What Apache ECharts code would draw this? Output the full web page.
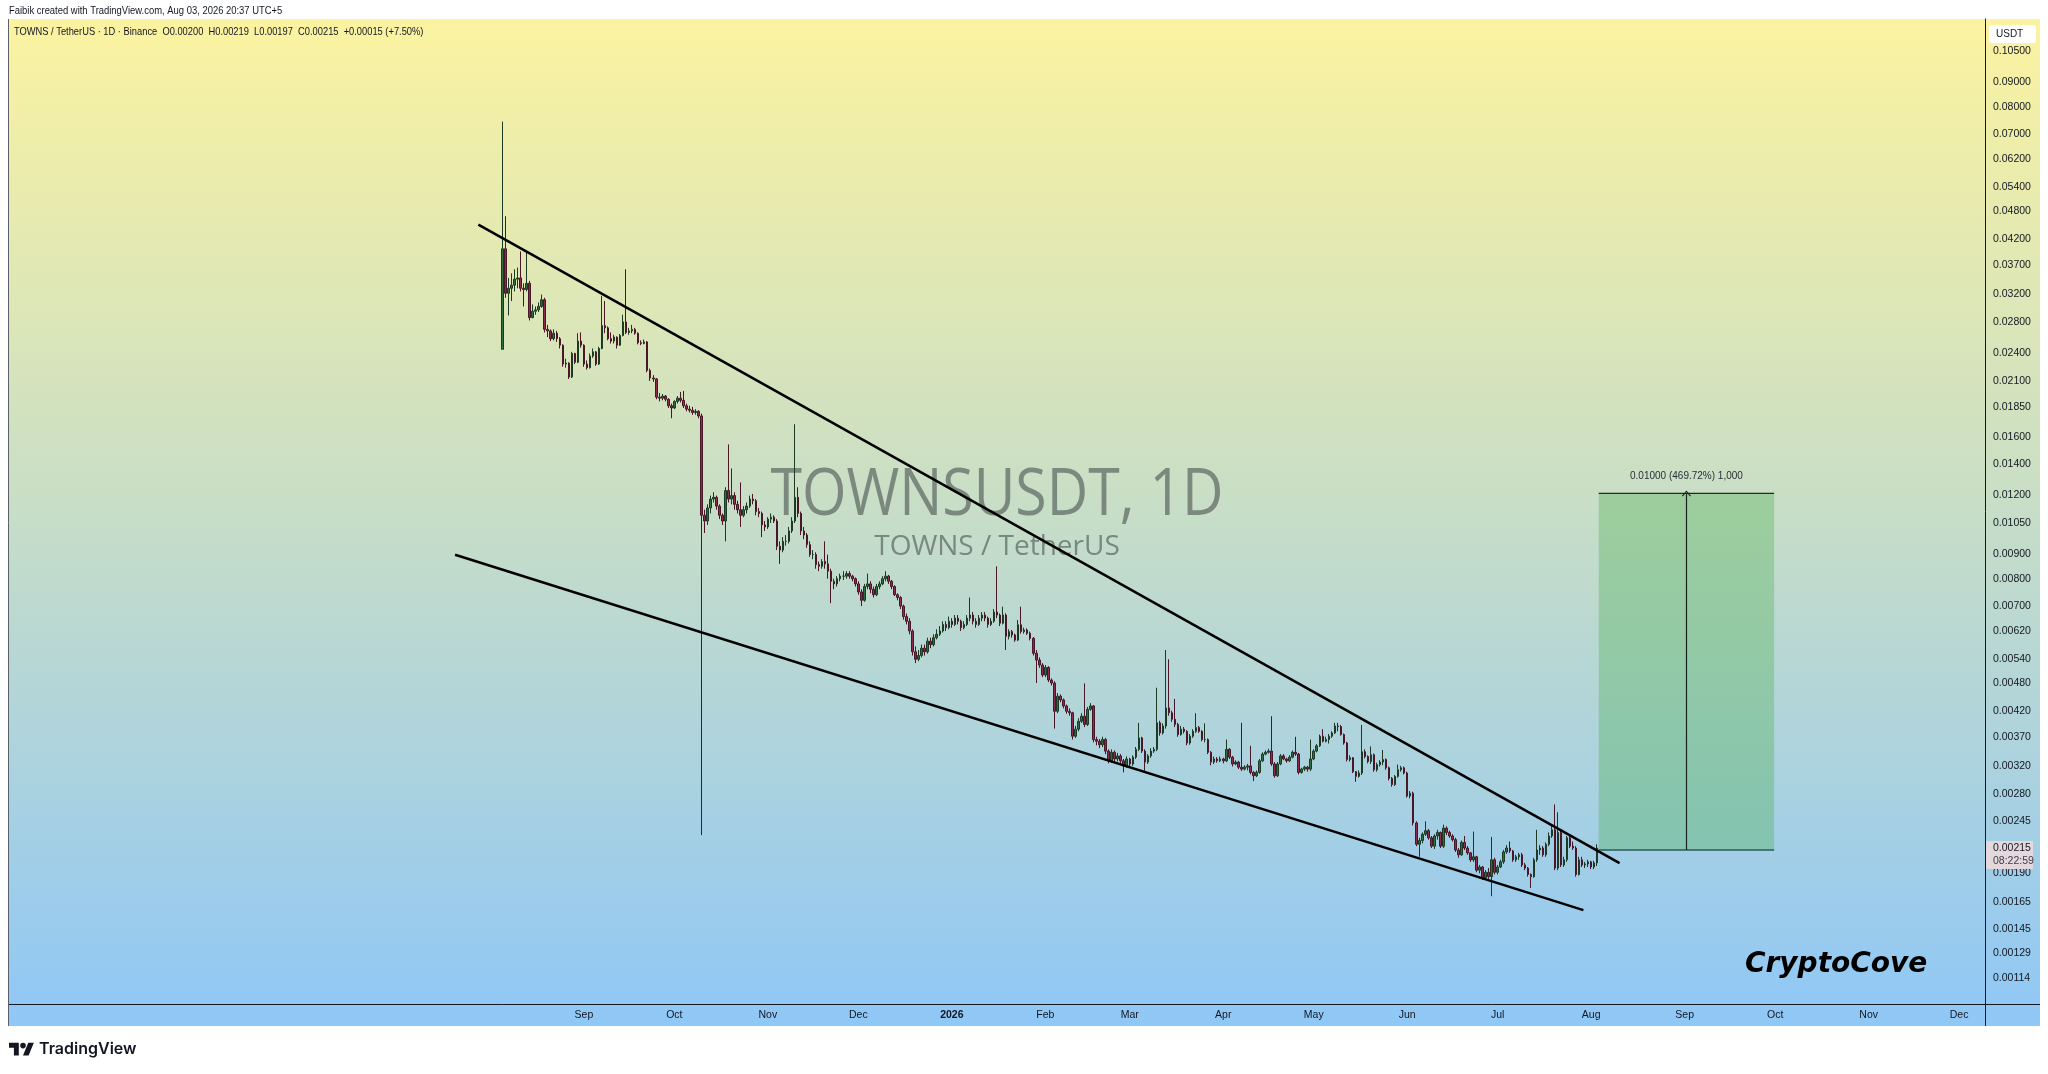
<!DOCTYPE html>
<html>
<head>
<meta charset="utf-8">
<title>TOWNSUSDT, 1D</title>
<script src="https://cdn.jsdelivr.net/npm/echarts@6/dist/echarts.min.js"></script>
<style>
html, body { margin: 0; padding: 0; background: #fff; }
#main { width: 2048px; height: 1074px; }
</style>
</head>
<body>
<div id="main"></div>
<script>
// daily candles from 2025-08-05, prices in 1e-5 USDT (open = previous close)
var firstDay = Date.UTC(2025, 7, 5);
var firstOpen = 2450;
var closes = [
  4000,3220,3300,3350,3450,3470,3300,3280,3380,2860,
  2950,2970,3020,3120,2700,2680,2580,2650,2580,2500,
  2280,2290,2140,2400,2300,2550,2500,2280,2240,2370,
  2420,2280,2460,2750,2720,2580,2550,2600,2500,2620,
  2800,2660,2680,2700,2650,2530,2520,2540,2210,2130,
  2120,1940,1930,1950,1920,1860,1840,1900,1930,1910,
  1860,1830,1820,1800,1810,1770,1090,1060,1130,1180,
  1190,1140,1090,1060,1230,1180,1200,1150,1120,1090,
  1120,1140,1180,1170,1110,1100,1040,1030,1070,1080,
  1060,937,920,960,960,1010,1060,1190,1100,1010,
  990,945,900,900,857,850,870,860,830,790,
  780,800,810,810,820,810,800,780,750,720,
  770,780,760,740,770,780,800,810,790,770,
  740,730,700,665,650,620,560,540,550,570,
  560,590,580,600,610,620,640,630,650,640,
  660,650,630,640,660,670,650,640,660,670,
  660,640,650,680,670,644,670,604,618,608,
  593,639,618,623,613,598,556,538,525,500,
  519,488,481,419,451,443,430,419,416,371,
  384,399,409,393,423,430,365,362,356,365,
  345,329,343,332,337,329,321,332,324,335,
  348,368,345,327,337,345,348,396,377,390,
  426,416,403,393,374,384,380,359,371,380,
  387,380,365,365,343,327,332,329,332,329,
  348,335,324,327,319,316,319,321,311,306,
  311,329,340,343,345,324,306,324,337,332,
  329,335,343,340,311,316,319,316,332,345,
  354,371,362,365,371,377,390,389,374,359,
  331,334,312,305,310,344,336,328,339,315,
  323,327,331,318,302,293,305,315,318,310,
  277,281,243,219,223,230,234,226,217,228,
  232,217,237,232,228,224,213,208,221,215,
  210,203,206,193,196,186,191,187,203,191,
  196,201,211,215,212,203,206,208,198,195,
  189,187,203,213,215,208,219,228,235,195,
  232,198,203,226,217,215,189,203,198,199,
  201,196,200,215
];
var highs = [
  7440,4690,3470,3550,3620,3650,3950,3380,3950,3420,
  3050,3020,3080,3200,3150,2760,2700,2700,2680,2600,
  2510,2340,2300,2420,2410,2650,2660,2510,2320,2400,
  2460,2430,2480,3180,3100,2740,2660,2630,2610,2640,
  2900,3620,2720,2760,2720,2660,2560,2570,2550,2230,
  2160,2130,1980,1970,1960,1930,1880,1910,1950,1990,
  2000,1880,1860,1850,1830,1820,1790,1120,1150,1200,
  1220,1200,1150,1100,1250,1540,1370,1220,1170,1280,
  1140,1160,1200,1210,1180,1130,1110,1060,1080,1100,
  1090,1070,960,980,990,1030,1080,1700,1250,1110,
  1030,1000,960,920,910,870,880,960,900,840,
  800,810,820,830,830,830,815,805,790,760,
  780,820,790,770,780,790,810,830,815,795,
  775,745,735,705,675,660,625,575,565,580,
  580,600,600,610,625,635,650,650,665,660,
  670,670,655,650,670,730,680,660,670,680,
  680,665,660,690,850,675,698,676,625,623,
  612,654,698,630,628,618,602,565,545,530,
  525,522,492,485,458,455,446,433,425,418,
  390,405,415,480,428,436,432,370,366,370,
  368,348,348,346,342,340,332,336,334,338,
  352,396,370,348,340,350,352,470,400,395,
  565,540,420,445,396,390,388,382,375,384,
  415,390,382,395,367,345,336,335,336,334,
  365,350,337,330,329,396,322,324,354,313,
  314,332,343,346,349,409,327,327,340,340,
  334,338,346,370,342,318,321,321,365,348,
  357,374,384,370,375,380,396,396,392,376,
  361,338,335,313,314,392,348,338,353,341,
  326,330,347,333,320,304,307,323,321,320,
  312,284,283,245,226,232,245,236,228,230,
  235,233,241,239,234,230,226,215,223,228,
  217,211,233,207,198,197,193,195,227,205,
  198,203,213,218,222,213,208,210,210,200,
  196,190,205,235,218,217,221,232,241,266,
  256,234,206,228,228,222,217,206,206,201,
  203,202,202,219
];
var lows = [
  2450,3150,2890,3100,3250,3300,3250,3020,3250,2820,
  2850,2900,2940,3000,2660,2600,2550,2560,2540,2460,
  2250,2240,2120,2130,2280,2290,2470,2250,2220,2230,
  2350,2260,2270,2450,2650,2560,2520,2520,2460,2490,
  2610,2640,2630,2650,2630,2510,2500,2510,2190,2100,
  2090,1920,1900,1910,1900,1840,1750,1830,1880,1890,
  1840,1810,1800,1780,1780,1750,229,1000,1040,1100,
  1160,1120,1070,1040,960,1160,1150,1120,1100,1030,
  1080,1100,1130,1150,1090,1080,980,1010,1020,1050,
  1050,920,860,910,940,950,1000,1050,1080,990,
  970,930,890,880,840,830,840,840,800,710,
  760,770,790,795,800,800,790,770,740,700,
  715,760,745,730,735,760,775,790,780,760,
  735,720,690,655,640,610,550,530,535,545,
  550,555,570,575,595,605,615,620,625,630,
  635,640,620,625,635,650,640,630,635,650,
  650,630,635,645,660,635,640,565,595,600,
  588,590,612,612,608,592,550,481,518,495,
  495,483,475,385,415,438,425,414,410,365,
  368,380,396,388,390,420,360,355,350,352,
  340,325,326,328,328,325,311,318,320,321,
  332,345,342,311,324,334,342,345,372,374,
  385,410,398,388,370,372,376,355,356,368,
  377,377,362,360,340,322,324,326,327,325,
  327,332,320,322,316,313,314,314,308,298,
  304,309,327,338,341,321,303,304,322,330,
  326,327,333,337,308,309,313,312,313,330,
  343,352,360,360,358,368,375,380,372,356,
  328,328,310,297,303,307,333,325,324,312,
  312,320,322,315,299,290,291,303,312,308,
  275,274,240,217,206,220,228,224,215,214,
  224,215,215,229,226,222,211,205,207,213,
  208,201,201,191,190,184,185,185,170,189,
  189,195,199,209,210,201,201,203,196,193,
  187,177,186,201,208,206,206,217,226,193,
  193,196,196,201,215,213,187,188,196,195,
  196,194,194,197
];

var priceTicks = [0.105, 0.09, 0.08, 0.07, 0.062, 0.054, 0.048, 0.042, 0.037, 0.032,
  0.028, 0.024, 0.021, 0.0185, 0.016, 0.014, 0.012, 0.0105, 0.009, 0.008, 0.007,
  0.0062, 0.0054, 0.0048, 0.0042, 0.0037, 0.0032, 0.0028, 0.00245, 0.0019,
  0.00165, 0.00145, 0.00129, 0.00114];
var monthTicks = ['2025-09-01','2025-10-01','2025-11-01','2025-12-01','2026-01-01',
  '2026-02-01','2026-03-01','2026-04-01','2026-05-01','2026-06-01','2026-07-01',
  '2026-08-01','2026-09-01','2026-10-01','2026-11-01','2026-12-01'];
var monthLabels = ['Sep','Oct','Nov','Dec','2026','Feb','Mar','Apr','May','Jun','Jul',
  'Aug','Sep','Oct','Nov','Dec'];

// drawings: falling wedge lines and the long position box
var upperLine = [[Date.UTC(2025, 6, 28), 0.04502], [Date.UTC(2026, 7, 10, 10), 0.001997]];
var lowerLine = [[Date.UTC(2025, 6, 20, 7), 0.00899], [Date.UTC(2026, 6, 29, 10), 0.001588]];
var posStart = Date.UTC(2026, 7, 3, 12);
var posEnd = Date.UTC(2026, 8, 30, 16);
var posEntry = 0.002129;
var posTarget = 0.012129;
var posLabel = '0.01000 (469.72%) 1,000';

var DAY = 86400000;
var UNIT = 1e-5;
var lg = Math.log10;
var SANS = "'Liberation Sans', Arial, sans-serif";
var INK = '#131722';

var candles = [];
var prevClose = firstOpen;
for (var i = 0; i < closes.length; i++) {
  candles.push([firstDay + i * DAY, lg(prevClose * UNIT), lg(closes[i] * UNIT),
    lg(lows[i] * UNIT), lg(highs[i] * UNIT)]);
  prevClose = closes[i];
}
var last = closes.length - 1;
var lastO = closes[last - 1] * UNIT, lastC = closes[last] * UNIT;
var lastH = highs[last] * UNIT, lastL = lows[last] * UNIT;
var chg = lastC - lastO;
var legendText = 'TOWNS / TetherUS \u00b7 1D \u00b7 Binance  O' + lastO.toFixed(5) +
  '  H' + lastH.toFixed(5) + '  L' + lastL.toFixed(5) + '  C' + lastC.toFixed(5) +
  '  +' + chg.toFixed(5) + ' (+' + (chg / lastO * 100).toFixed(2) + '%)';

function logLine(pts) {
  return pts.map(function (p) { return [p[0], lg(p[1])]; });
}
var monthValues = monthTicks.map(function (s) { return Date.parse(s); });
var posMid = (posStart + posEnd) / 2;

var chart = echarts.init(document.getElementById('main'));
var option = {
  animation: false,
  backgroundColor: '#ffffff',
  grid: { left: 9, right: 63, top: 19, bottom: 70 },
  xAxis: {
    type: 'value',
    min: Date.UTC(2025, 1, 22, 9),
    max: Date.UTC(2026, 11, 9, 14),
    axisLine: { show: true, onZero: false, lineStyle: { color: INK, width: 1 } },
    axisTick: { show: false },
    splitLine: { show: false },
    axisLabel: {
      customValues: monthValues,
      color: INK,
      fontSize: 10.5,
      fontFamily: SANS,
      margin: 6,
      formatter: function (v) {
        var k = monthValues.indexOf(v);
        var s = k >= 0 ? monthLabels[k] : '';
        return /^\d{4}$/.test(s) ? '{b|' + s + '}' : s;
      },
      rich: { b: { fontWeight: 'bold', fontSize: 10.5, fontFamily: SANS, color: INK } }
    }
  },
  yAxis: {
    type: 'value',
    position: 'right',
    min: -2.998,
    max: -0.911,
    axisLine: { show: true, onZero: false, lineStyle: { color: INK, width: 1 } },
    axisTick: { show: false },
    splitLine: { show: false },
    axisLabel: {
      customValues: priceTicks.map(lg),
      color: INK,
      fontSize: 10.5,
      fontFamily: SANS,
      margin: 8,
      formatter: function (v) { return Math.pow(10, v).toFixed(5); }
    }
  },
  series: [
    {
      type: 'candlestick',
      data: candles,
      barWidth: 2,
      z: 3,
      silent: true,
      itemStyle: {
        color: '#2f6e3c',
        color0: '#8c2b4b',
        borderColor: '#1d3a24',
        borderColor0: '#4a1729',
        borderWidth: 1
      }
    },
    {
      type: 'line', data: logLine(upperLine), showSymbol: false, silent: true, z: 5,
      lineStyle: { color: '#000', width: 2.5 }
    },
    {
      type: 'line', data: logLine(lowerLine), showSymbol: false, silent: true, z: 5,
      lineStyle: { color: '#000', width: 2.5 }
    },
    {
      type: 'line',
      data: [[posStart, lg(posTarget)], [posEnd, lg(posTarget)]],
      showSymbol: false, silent: true, z: 4,
      lineStyle: { color: '#1e2a22', width: 1.2 },
      markArea: {
        silent: true,
        itemStyle: { color: 'rgba(76,175,80,0.35)' },
        label: {
          show: true, position: 'top', distance: 12, color: '#2a2e39',
          fontSize: 10, fontFamily: SANS, formatter: posLabel
        },
        data: [[{ xAxis: posStart, yAxis: lg(posTarget) }, { xAxis: posEnd, yAxis: lg(posEntry) }]]
      },
      markLine: {
        silent: true,
        symbol: ['none', 'path://M0,8L5,0L10,8L9,9L5,2.5L1,9Z'],
        symbolSize: [9, 6],
        label: { show: false },
        lineStyle: { color: '#16231a', width: 1.2, type: 'solid' },
        data: [[{ coord: [posMid, lg(posEntry)] }, { coord: [posMid, lg(posTarget)] }]]
      }
    },
    {
      type: 'line',
      data: [[posStart, lg(posEntry)], [posEnd, lg(posEntry)]],
      showSymbol: false, silent: true, z: 4,
      lineStyle: { color: '#2c5a57', width: 1.5 }
    }
  ]
};
chart.setOption(option);

var py = chart.convertToPixel({ yAxisIndex: 0 }, lg(lastC));
var LOGO = 0.7;
function logoPts(pts) {
  return pts.map(function (p) { return [9 + p[0] * LOGO, 1040 + p[1] * LOGO]; });
}

chart.setOption({
  graphic: [
    {
      type: 'rect', silent: true, z: -10,
      shape: { x: 8, y: 19, width: 2032, height: 1007 },
      style: {
        fill: {
          type: 'linear', x: 0, y: 0, x2: 0, y2: 1,
          colorStops: [
            { offset: 0, color: '#fbf3a0' },
            { offset: 0.5, color: '#c6ddc8' },
            { offset: 1, color: '#8fc7f6' }
          ]
        }
      }
    },
    { type: 'line', silent: true, z: 1, shape: { x1: 8.5, y1: 19, x2: 8.5, y2: 1026 },
      style: { stroke: '#5a5f6a', lineWidth: 1 } },
    { type: 'line', silent: true, z: 1, shape: { x1: 1985.5, y1: 1004, x2: 1985.5, y2: 1026 },
      style: { stroke: INK, lineWidth: 1 } },
    { type: 'line', silent: true, z: 1, shape: { x1: 1985, y1: 1004.5, x2: 2040, y2: 1004.5 },
      style: { stroke: INK, lineWidth: 1 } },
    {
      type: 'text', silent: true, z: 1, x: 997, y: 496, scaleX: 0.88,
      style: { text: 'TOWNSUSDT, 1D', font: "65px 'Open Sans', sans-serif",
        fill: 'rgba(90,100,95,0.7)', align: 'center', verticalAlign: 'middle' }
    },
    {
      type: 'text', silent: true, z: 1, x: 997, y: 547,
      style: { text: 'TOWNS / TetherUS', font: "28px 'Open Sans', sans-serif",
        fill: 'rgba(90,100,95,0.7)', align: 'center', verticalAlign: 'middle' }
    },
    {
      type: 'text', silent: true, z: 1, x: 9, y: 11, scaleX: 0.82,
      style: { text: 'Faibik created with TradingView.com, Aug 03, 2026 20:37 UTC+5',
        font: '11.5px ' + SANS, fill: INK, verticalAlign: 'middle' }
    },
    {
      type: 'text', silent: true, z: 1, x: 14, y: 32, scaleX: 0.81,
      style: { text: legendText, font: '11.5px ' + SANS, fill: INK, verticalAlign: 'middle' }
    },
    {
      type: 'text', silent: true, z: 6, x: 1745, y: 965,
      style: { text: 'CryptoCove', font: "italic bold 28px 'DejaVu Sans', sans-serif",
        fill: '#000', verticalAlign: 'middle' }
    },
    {
      type: 'rect', silent: true, z: 6,
      shape: { x: 1989, y: 25, width: 47, height: 18, r: 3 },
      style: { fill: '#ffffff' }
    },
    {
      type: 'text', silent: true, z: 7, x: 1996, y: 34,
      style: { text: 'USDT', font: '10px ' + SANS, fill: INK, verticalAlign: 'middle' }
    },
    {
      type: 'rect', silent: true, z: 6,
      shape: { x: 1986, y: py - 7, width: 47, height: 28 },
      style: { fill: '#e3d9dd' }
    },
    {
      type: 'text', silent: true, z: 7, x: 1993, y: py + 0.5,
      style: { text: lastC.toFixed(5), font: '10.5px ' + SANS, fill: INK, verticalAlign: 'middle' }
    },
    {
      type: 'text', silent: true, z: 7, x: 1993, y: py + 13,
      style: { text: '08:22:59', font: '10.5px ' + SANS, fill: '#3a3e48', verticalAlign: 'middle' }
    },
    {
      type: 'polygon', silent: true, z: 1,
      shape: { points: logoPts([[14, 22], [7, 22], [7, 11], [0, 11], [0, 4], [14, 4]]) },
      style: { fill: INK }
    },
    {
      type: 'polygon', silent: true, z: 1,
      shape: { points: logoPts([[28, 22], [20, 22], [27.5, 4], [35.5, 4]]) },
      style: { fill: INK }
    },
    {
      type: 'circle', silent: true, z: 1,
      shape: { cx: 9 + 20 * LOGO, cy: 1040 + 8 * LOGO, r: 4 * LOGO },
      style: { fill: INK }
    },
    {
      type: 'text', silent: true, z: 1, x: 39, y: 1049,
      style: { text: 'TradingView', font: "600 16px Inter, 'Noto Sans', sans-serif",
        fill: INK, verticalAlign: 'middle' }
    }
  ]
});
</script>
</body>
</html>
